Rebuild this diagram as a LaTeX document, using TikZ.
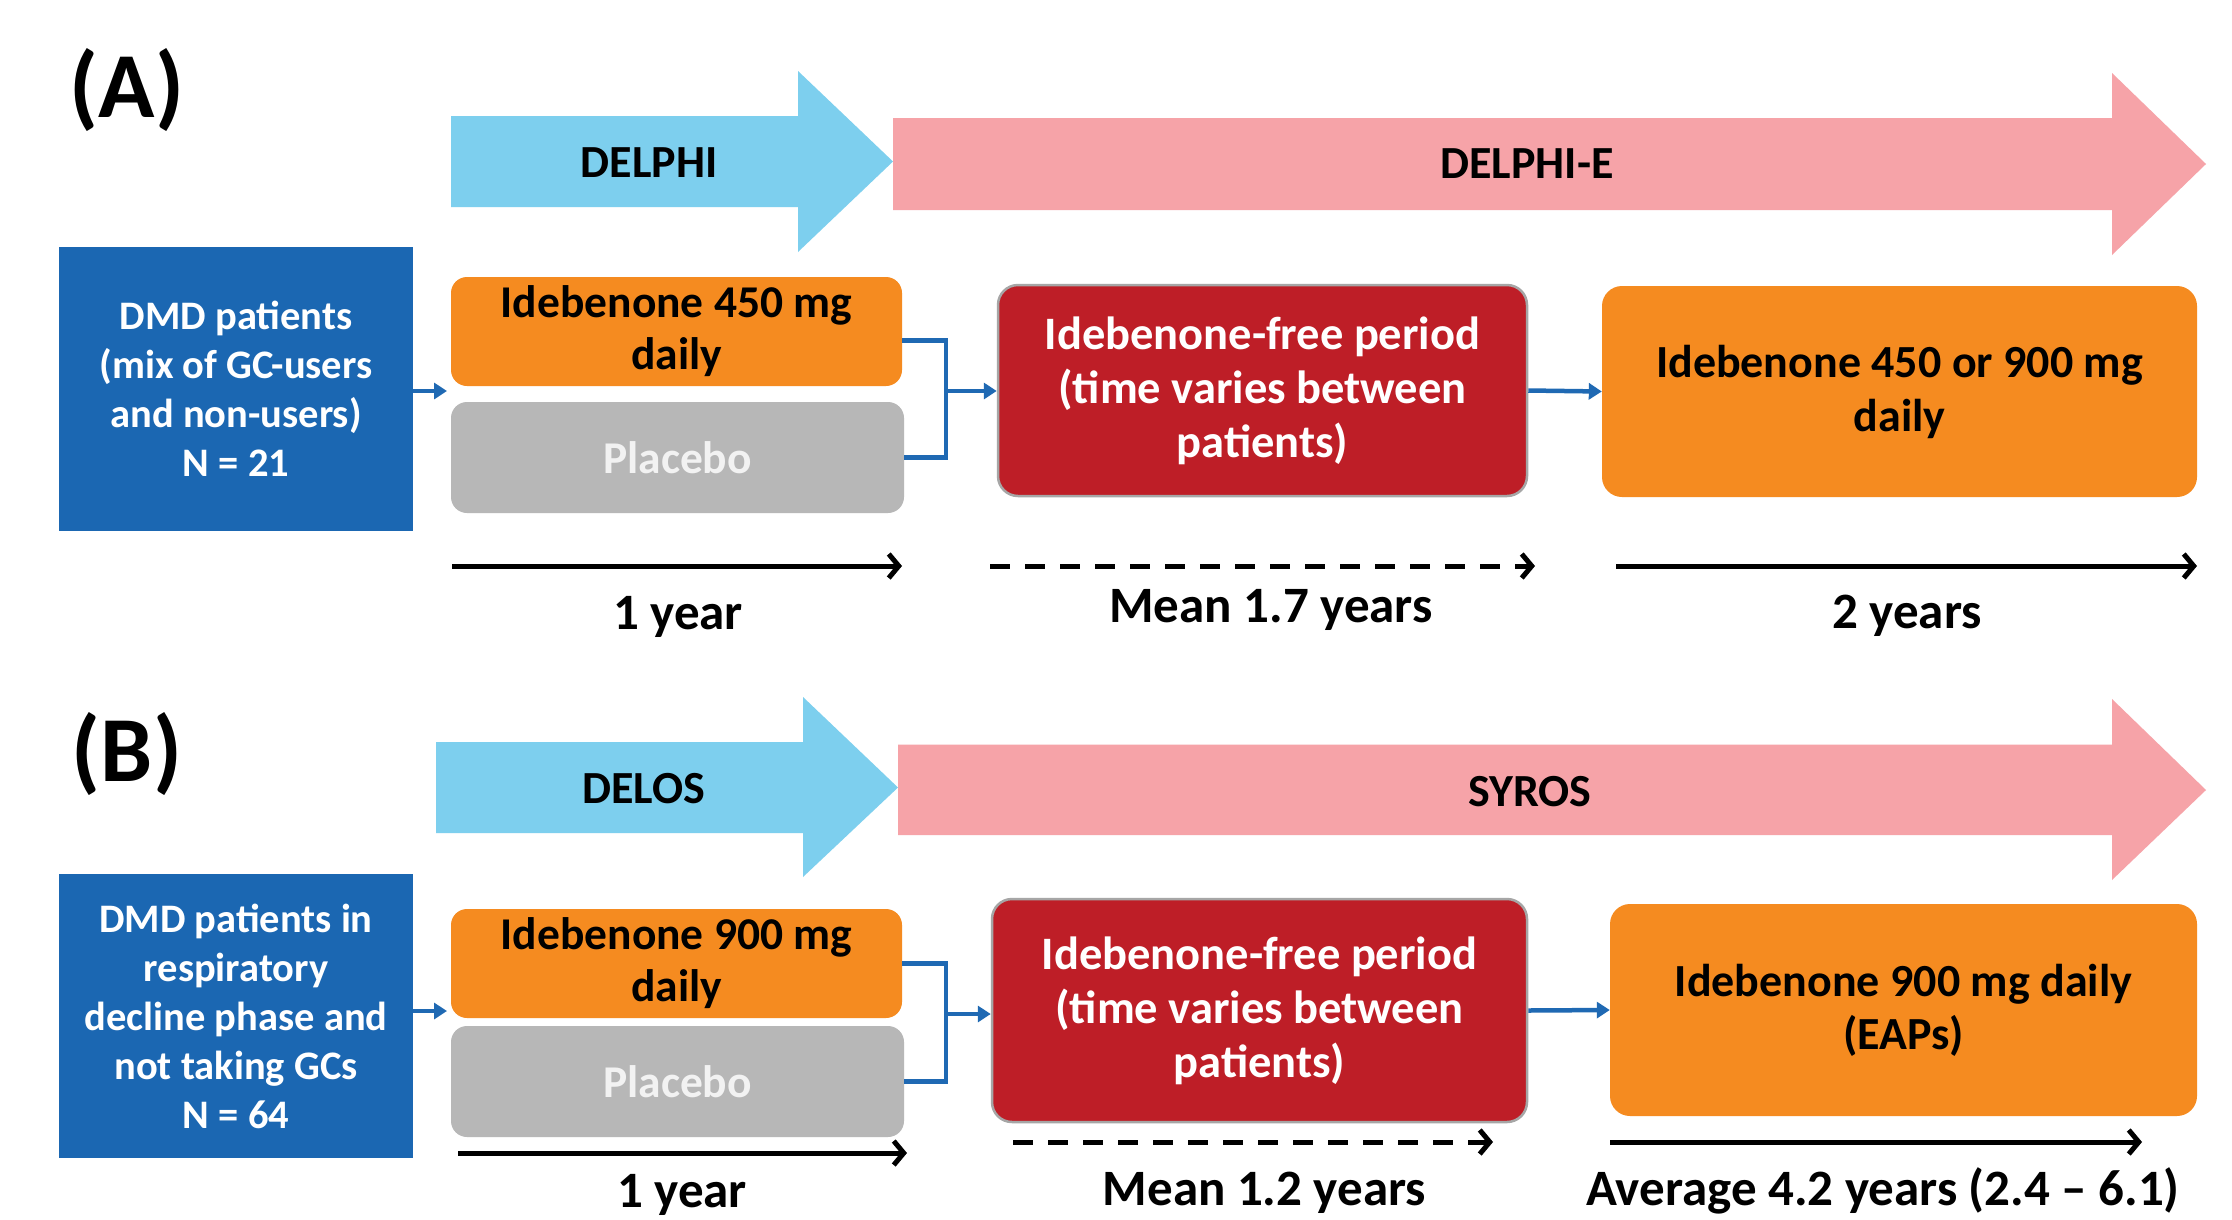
\documentclass[tikz,border=0pt]{standalone}
\usepackage{fontspec}
\setmainfont{Carlito}
\usetikzlibrary{arrows.meta}
\definecolor{arrblue}{HTML}{7DCFEE}
\definecolor{arrpink}{HTML}{F6A3A8}
\definecolor{dmdblue}{HTML}{1B67B2}
\definecolor{orng}{HTML}{F58B20}
\definecolor{plgray}{HTML}{B7B7B7}
\definecolor{dred}{HTML}{BE1E27}
\definecolor{conblue}{HTML}{1F69B3}
\tikzset{
  dmdbox/.style={fill=dmdblue, text=white, inner sep=0pt, align=center,
     font=\bfseries\fontsize{40.5}{49}\selectfont, minimum width=354pt, minimum height=284pt},
  obox/.style={fill=orng, rounded corners=16pt, inner sep=0pt, align=center, text=black},
  pbox/.style={fill=plgray, rounded corners=16pt, inner sep=0pt, align=center, text=white!95!black,
     font=\bfseries\fontsize{45.5}{52}\selectfont},
  rbox/.style={fill=dred, draw=black!35, line width=2.5pt, rounded corners=20pt, inner sep=0pt,
     align=center, text=white, font=\bfseries\fontsize{46.5}{54}\selectfont},
  conn/.style={draw=conblue, line width=4.5pt},
  conarr/.style={conn, -{Triangle[length=13pt,width=16pt]}},
  tline/.style={draw=black, line width=5pt, -{Straight Barb[length=10pt,width=24pt]}},
  tdash/.style={tline, dash pattern=on 20pt off 15pt},
  tlabel/.style={anchor=base, font=\bfseries\fontsize{51}{60}\selectfont, inner sep=0pt},
  phase/.style={font=\bfseries\fontsize{46}{56}\selectfont, inner sep=0pt},
  panel/.style={font=\bfseries\fontsize{93}{110}\selectfont, inner sep=0pt},
}
\begin{document}
\begin{tikzpicture}[x=1pt, y=-1pt]
\useasboundingbox (0,0) rectangle (2232,1219);
\fill[white] (0,0) rectangle (2232,1219);

% ===== Panel A =====
\node[panel] (pA) at (127,90) {(A)};
\fill[arrblue] (451,116) -- (798,116) -- (798,71) -- (893,161.5) -- (798,252) -- (798,207) -- (451,207) -- cycle;
\fill[arrpink] (893,118) -- (2112,118) -- (2112,73) -- (2206,164) -- (2112,255) -- (2112,210) -- (893,210) -- cycle;
\node[phase] (delphi) at (649,163) {DELPHI};
\node[phase] (delphie) at (1527,164) {DELPHI-E};

\node[dmdbox] (dmdA) at (236,389) {DMD patients\\(mix of GC-users\\and non-users)\\N = 21};
\node[obox, minimum width=451pt, minimum height=109pt, font=\bfseries\fontsize{45.5}{52}\selectfont] (o1A) at (676.5,331.5) {Idebenone 450 mg\\daily};
\node[pbox, minimum width=453pt, minimum height=111pt] (plA) at (677.5,457.5) {Placebo};
\node[rbox, minimum width=529pt, minimum height=211pt] (redA) at (1262.5,390.5) {Idebenone-free period\\(time varies between\\patients)};
\node[obox, minimum width=595pt, minimum height=211pt, rounded corners=20pt, font=\bfseries\fontsize{46}{54}\selectfont] (o2A) at (1899.5,391.5) {Idebenone 450 or 900 mg\\daily};

\coordinate (gA) at (447,391);
\coordinate (jA) at (946,391);
\draw[conarr] (dmdA.east |- gA) -- (gA);
\draw[conn] ([yshift=-9pt]o1A.east) -| (jA) |- (plA.east);
\draw[conarr] (jA) -- (redA.west |- jA);
\draw[conarr] (redA.east) -- (o2A.west);

\coordinate (t1As) at (452,566); \coordinate (t1Ae) at (902,566);
\coordinate (t2As) at (990,566); \coordinate (t2Ae) at (1535,566);
\coordinate (t3As) at (1616,566); \coordinate (t3Ae) at (2197,566);
\draw[tline] (t1As) -- (t1Ae);
\draw[tdash] (t2As) -- (t2Ae);
\draw[tline] (t3As) -- (t3Ae);
\node[tlabel] (lA1) at (678,629) {1 year};
\node[tlabel] (lA2) at (1271,622) {Mean 1.7 years};
\node[tlabel] (lA3) at (1907,628) {2 years};

% ===== Panel B =====
\node[panel] (pB) at (127,754) {(B)};
\fill[arrblue] (436,742) -- (803,742) -- (803,697) -- (898,787.5) -- (803,877) -- (803,833) -- (436,833) -- cycle;
\fill[arrpink] (898,744.5) -- (2112,744.5) -- (2112,699) -- (2206,790) -- (2112,880) -- (2112,835) -- (898,835) -- cycle;
\node[phase] (delos) at (644,789) {DELOS};
\node[phase] (syros) at (1530,792) {SYROS};

\node[dmdbox] (dmdB) at (236,1016) {DMD patients in\\respiratory\\decline phase and\\not taking GCs\\N = 64};
\node[obox, minimum width=451pt, minimum height=109pt, font=\bfseries\fontsize{45.5}{52}\selectfont] (o1B) at (676.5,963.5) {Idebenone 900 mg\\daily};
\node[pbox, minimum width=453pt, minimum height=111pt] (plB) at (677.5,1081.5) {Placebo};
\node[rbox, minimum width=535pt, minimum height=223pt] (redB) at (1259.5,1010.5) {Idebenone-free period\\(time varies between\\patients)};
\node[obox, minimum width=587pt, minimum height=212pt, rounded corners=20pt, font=\bfseries\fontsize{46}{53}\selectfont] (o2B) at (1903.5,1010) {Idebenone 900 mg daily\\(EAPs)};

\coordinate (gB) at (447,1011);
\coordinate (jB) at (946,1014);
\draw[conarr] (dmdB.east |- gB) -- (gB);
\draw[conn] (o1B.east) -| (jB) |- (plB.east);
\draw[conarr] (jB) -- (redB.west |- jB);
\draw[conarr] (redB.east) -- (o2B.west);

\coordinate (t1Bs) at (458,1153); \coordinate (t1Be) at (907,1153);
\coordinate (t2Bs) at (1013,1142); \coordinate (t2Be) at (1493,1142);
\coordinate (t3Bs) at (1610,1142); \coordinate (t3Be) at (2142,1142);
\draw[tline] (t1Bs) -- (t1Be);
\draw[tdash] (t2Bs) -- (t2Be);
\draw[tline] (t3Bs) -- (t3Be);
\node[tlabel] (lB1) at (682,1207) {1 year};
\node[tlabel] (lB2) at (1264.5,1205) {Mean 1.2 years};
\node[tlabel] (lB3) at (1883,1205) {Average 4.2 years (2.4 – 6.1)};
\end{tikzpicture}
\end{document}
